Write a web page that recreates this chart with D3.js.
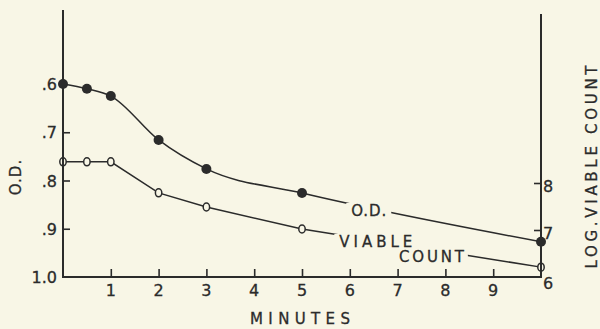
<!DOCTYPE html>
<html><head><meta charset="utf-8">
<script src="https://cdn.jsdelivr.net/npm/d3@7"></script>
<style>
html,body{margin:0;padding:0;background:#f8f6e6;}
svg{display:block;}
text{font-family:"DejaVu Sans","Liberation Sans",sans-serif;fill:#2b2b2b;stroke:#2b2b2b;stroke-width:0.3px;}
</style></head>
<body>
<svg id="chart" width="600" height="329"></svg>
<script>
// ---- data ----
const minutes = [0, 0.5, 1, 2, 3, 5, 10];
const odValues = [0.600, 0.610, 0.625, 0.716, 0.776, 0.826, 0.927];
const viableLog = [8.45, 8.45, 8.45, 7.79, 7.49, 7.02, 6.21];
const xTicks = [1, 2, 3, 4, 5, 6, 7, 8, 9];
const odTicks = [0.6, 0.7, 0.8, 0.9, 1.0];
const odTickLabels = [".6", ".7", ".8", ".9", "1.0"];
const logTicks = [6, 7, 8];

const bg = "#f8f6e6", ink = "#2b2b2b";
const svg = d3.select("#chart");
svg.append("rect").attr("width", 600).attr("height", 329).attr("fill", bg);

const x = d3.scaleLinear().domain([0, 10]).range([63, 541]);
const yOD = d3.scaleLinear().domain([0.6, 1.0]).range([84, 277]);
const yLog = d3.scaleLinear().domain([6, 8]).range([277, 183]);

const odData = minutes.map((m, i) => ({m, v: odValues[i]}));
const viData = minutes.map((m, i) => ({m, v: viableLog[i]}));

// lines
svg.append("path").datum(odData)
  .attr("fill", "none").attr("stroke", ink).attr("stroke-width", 1.5)
  .attr("d", d3.line().x(d => x(d.m)).y(d => yOD(d.v)).curve(d3.curveMonotoneX));
svg.append("path").datum(viData)
  .attr("fill", "none").attr("stroke", ink).attr("stroke-width", 1.5)
  .attr("d", d3.line().x(d => x(d.m)).y(d => yLog(d.v)));

// in-plot labels that break the lines
const labelLayer = svg.append("g");
function label(txt, xx, yy, len, padR, padB) {
  const g = labelLayer.append("g");
  const r = g.append("rect").attr("fill", bg);
  const t = g.append("text").attr("x", xx).attr("y", yy).text(txt)
    .attr("font-size", 15).attr("textLength", len).attr("lengthAdjust", "spacing");
  const b = t.node().getBBox();
  r.attr("x", b.x - 5).attr("y", b.y + 1).attr("width", b.width + 5 + padR).attr("height", b.height - 2 + padB);
}
label("O.D.", x(6.03), 216, 35, 5, 0);
label("VIABLE", x(5.78), 247, 73, 22, 3);
label("COUNT", x(7.03), 262, 65, 3, 0);

// markers
svg.selectAll("circle.od").data(odData).join("circle")
  .attr("cx", d => x(d.m)).attr("cy", d => yOD(d.v)).attr("r", 5).attr("fill", ink);
svg.selectAll("ellipse.vi").data(viData).join("ellipse")
  .attr("cx", d => x(d.m)).attr("cy", d => yLog(d.v)).attr("rx", 3.2).attr("ry", 4)
  .attr("fill", bg).attr("stroke", ink).attr("stroke-width", 1.5);

// axes lines
const axStyle = g => g.attr("stroke", ink).attr("stroke-width", 2).attr("fill", "none");
svg.append("line").attr("x1", x(0)).attr("x2", x(0)).attr("y1", 10).attr("y2", yOD(1.0) + 1).call(axStyle);
svg.append("line").attr("x1", x(10)).attr("x2", x(10)).attr("y1", 14).attr("y2", yLog(6) + 1).call(axStyle);
svg.append("line").attr("x1", x(0) - 1).attr("x2", x(10) + 1).attr("y1", yOD(1.0)).attr("y2", yOD(1.0)).call(axStyle);

// x axis ticks (inward) and labels
const xb = svg.append("g").attr("transform", `translate(0,${yOD(1.0)})`);
xb.call(d3.axisTop(x).tickValues(xTicks).tickSize(8).tickFormat(""));
xb.select(".domain").remove();
xb.selectAll(".tick line").attr("stroke", ink).attr("stroke-width", 1.6);
svg.selectAll("text.xl").data(xTicks).join("text")
  .attr("x", d => x(d)).attr("y", 296).attr("text-anchor", "middle")
  .attr("font-size", 16).text(d => d);

// left axis ticks (inward)
const yl = svg.append("g").attr("transform", `translate(${x(0)},0)`);
yl.call(d3.axisRight(yOD).tickValues(odTicks.slice(1, 4)).tickSize(7).tickFormat(""));
yl.select(".domain").remove();
yl.selectAll(".tick line").attr("stroke", ink).attr("stroke-width", 1.6);
svg.selectAll("text.yl").data(odTicks).join("text")
  .attr("x", 57).attr("y", d => yOD(d) + 6).attr("text-anchor", "end")
  .attr("font-size", 16).text((d, i) => odTickLabels[i]);

// right axis ticks (inward)
const yr = svg.append("g").attr("transform", `translate(${x(10)},0)`);
yr.call(d3.axisLeft(yLog).tickValues([7, 8]).tickSize(7).tickFormat(""));
yr.select(".domain").remove();
yr.selectAll(".tick line").attr("stroke", ink).attr("stroke-width", 1.6);
svg.selectAll("text.yr").data(logTicks).join("text")
  .attr("x", 543).attr("y", d => yLog(d) + (d === 6 ? 12 : 9)).attr("text-anchor", "start")
  .attr("font-size", 16).text(d => d);

// axis titles
svg.append("text").attr("transform", "translate(21,177) rotate(-90)")
  .attr("text-anchor", "middle").attr("font-size", 15).attr("letter-spacing", 1).text("O.D.");
svg.append("text").attr("transform", "translate(597,167) rotate(-90)")
  .attr("text-anchor", "middle").attr("font-size", 15)
  .attr("textLength", 203).attr("lengthAdjust", "spacing").text("LOG.VIABLE  COUNT");
svg.append("text").attr("x", 300).attr("y", 324).attr("text-anchor", "middle")
  .attr("font-size", 15).attr("textLength", 100).attr("lengthAdjust", "spacing").text("MINUTES");
</script>
</body></html>
